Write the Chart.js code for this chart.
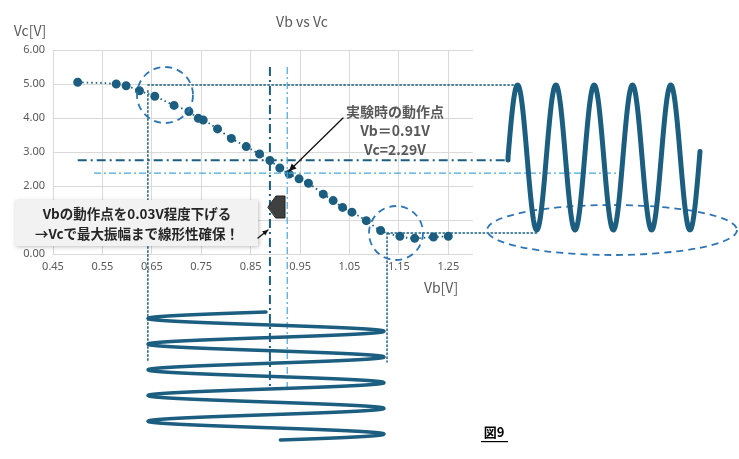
<!DOCTYPE html>
<html>
<head>
<meta charset="utf-8">
<script src="https://cdn.jsdelivr.net/npm/chart.js@4"></script>
<style>
html,body{margin:0;padding:0;background:#fff;}
#wrap{width:739px;height:459px;}
</style>
</head>
<body>
<div id="wrap"><canvas id="myChart" width="739" height="459"></canvas></div>
<script>
// Vb-Vc measurement points
let vbValues=[0.50,0.578,0.598,0.625,0.656,0.695,0.725,0.744,0.754,0.783,0.811,0.841,0.868,0.889,0.909,0.928,0.948,0.967,0.997,1.017,1.036,1.055,1.084,1.113,1.152,1.182,1.22,1.25];
let vcValues=[5.05,5.00,4.95,4.80,4.64,4.37,4.19,3.99,3.94,3.68,3.40,3.16,2.94,2.75,2.53,2.35,2.21,2.08,1.76,1.57,1.37,1.23,0.98,0.69,0.52,0.46,0.50,0.52];
let xTicks=[0.45,0.55,0.65,0.75,0.85,0.95,1.05,1.15,1.25];
let yTicks=[0,1,2,3,4,5,6];

const BLUE="rgb(28,94,128)";
const MID="rgb(46,117,182)";
const LIGHT="rgb(74,166,214)";

function wavePath(ctx, pts)
{
    ctx.beginPath();
    pts.forEach((p,i)=>{ if(i==0) ctx.moveTo(p[0],p[1]); else ctx.lineTo(p[0],p[1]); });
    ctx.stroke();
}

let deco={
    id:"deco",
    afterDatasetsDraw(chart)
    {
        let ctx=chart.ctx;
        let sx=chart.scales.x, sy=chart.scales.y;
        let X=v=>sx.getPixelForValue(v), Y=v=>sy.getPixelForValue(v);
        ctx.save();
        ctx.lineCap="round";

        // dotted guide lines
        ctx.strokeStyle=BLUE; ctx.lineWidth=1.5; ctx.setLineDash([1.5,2.5]);
        ctx.beginPath();
        ctx.moveTo(X(0.642),Y(4.97)); ctx.lineTo(518,Y(4.97));
        ctx.moveTo(X(1.126),Y(0.62)); ctx.lineTo(537,Y(0.62));
        ctx.moveTo(X(0.642),Y(4.8)); ctx.lineTo(X(0.642),362);
        ctx.moveTo(X(1.126),Y(0.62)); ctx.lineTo(X(1.126),362);
        ctx.stroke();

        // dark dash-dot operating point
        ctx.lineCap="butt";
        ctx.strokeStyle=BLUE; ctx.lineWidth=2; ctx.setLineDash([9,4,2,4]);
        ctx.beginPath();
        ctx.moveTo(X(0.50),Y(2.76)); ctx.lineTo(508,Y(2.76));
        ctx.moveTo(X(0.889),67); ctx.lineTo(X(0.889),390);
        ctx.stroke();
        // light dash-dot experimental point
        ctx.strokeStyle=LIGHT; ctx.lineWidth=1.2; ctx.setLineDash([7,3,2,3]);
        ctx.beginPath();
        ctx.moveTo(X(0.533),Y(2.38)); ctx.lineTo(620,Y(2.38));
        ctx.moveTo(X(0.924),67); ctx.lineTo(X(0.924),387);
        ctx.stroke();

        // dashed circles
        ctx.strokeStyle=MID; ctx.lineWidth=1.8; ctx.setLineDash([7,5]);
        ctx.beginPath(); ctx.ellipse(165,95,28,28,0,0,Math.PI*2); ctx.stroke();
        ctx.beginPath(); ctx.ellipse(396,233,27,27,0,0,Math.PI*2); ctx.stroke();
        ctx.beginPath(); ctx.ellipse(612,230,125,25,0,0,Math.PI*2); ctx.stroke();

        // output wave (Vc)
        ctx.setLineDash([]); ctx.strokeStyle=BLUE; ctx.lineWidth=5; ctx.lineCap="round"; ctx.lineJoin="round";
        let pts=[[508,160]];
        for(let x=508;x<=700;x+=0.5) pts.push([x,157.5-72.5*Math.sin(2*Math.PI*(x-508)/38.3)]);
        wavePath(ctx,pts);

        // input wave (Vb)
        ctx.lineWidth=3.5;
        pts=[];
        for(let y=312;y<=440;y+=0.25) pts.push([266-118*Math.sin(2*Math.PI*(y-312)/25.7),y]);
        wavePath(ctx,pts);

        // note box
        ctx.shadowColor="rgba(0,0,0,0.25)"; ctx.shadowBlur=4; ctx.shadowOffsetX=1; ctx.shadowOffsetY=1;
        ctx.fillStyle="#f2f2f2"; ctx.fillRect(15,200,243,46);
        ctx.shadowColor="transparent";
        ctx.fillStyle="#262626"; ctx.font="bold 13.5px 'Noto Sans CJK JP'"; ctx.textAlign="center"; ctx.textBaseline="middle";
        ctx.fillText("Vbの動作点を0.03V程度下げる",137,214);
        ctx.fillText("→Vcで最大振幅まで線形性確保！",137,234);

        // left-pointing block arrow
        ctx.fillStyle="#404040"; ctx.strokeStyle="#222"; ctx.lineWidth=1;
        ctx.beginPath();
        ctx.moveTo(268,207); ctx.lineTo(276,196); ctx.lineTo(285,196); ctx.lineTo(285,218); ctx.lineTo(276,218); ctx.closePath();
        ctx.fill(); ctx.stroke();

        // small arrows
        ctx.strokeStyle="#111"; ctx.fillStyle="#111"; ctx.lineWidth=1.3;
        function arrow(x1,y1,x2,y2,h)
        {
            ctx.beginPath(); ctx.moveTo(x1,y1); ctx.lineTo(x2,y2); ctx.stroke();
            let a=Math.atan2(y2-y1,x2-x1);
            ctx.beginPath(); ctx.moveTo(x2,y2);
            ctx.lineTo(x2-h*Math.cos(a-0.45),y2-h*Math.sin(a-0.45));
            ctx.lineTo(x2-h*Math.cos(a+0.45),y2-h*Math.sin(a+0.45));
            ctx.closePath(); ctx.fill();
        }
        arrow(343,118,289,171,8);
        arrow(258,238,268,230,6);

        // operating point label
        ctx.fillStyle="#595959"; ctx.font="bold 14px 'Noto Sans CJK JP'";
        ctx.fillText("実験時の動作点",395,112);
        ctx.fillText("Vb＝0.91V",395,131);
        ctx.fillText("Vc=2.29V",395,150);

        // titles
        ctx.fillStyle="#595959"; ctx.font="14px 'Noto Sans CJK JP'";
        ctx.fillText("Vb vs Vc",302,22);
        ctx.fillText("Vc[V]",30,31);
        ctx.fillText("Vb[V]",441,288);

        ctx.fillStyle="#000"; ctx.font="bold 13px 'Noto Sans CJK JP'";
        ctx.fillText("図9",494,432);
        ctx.fillRect(481,441,27,1.2);
        ctx.restore();
    }
};

new Chart(document.getElementById("myChart"),{
    type:"scatter",
    data:{
        datasets:[{
            data:vbValues.map((v,i)=>({x:v,y:vcValues[i]})),
            showLine:true,
            cubicInterpolationMode:"monotone",
            borderColor:BLUE,
            borderWidth:1.8,
            borderDash:[1.5,3],
            backgroundColor:BLUE,
            pointBackgroundColor:BLUE,
            pointBorderColor:BLUE,
            pointRadius:3.6
        }]
    },
    options:{
        responsive:false,
        animation:false,
        layout:{padding:{left:0,right:266,top:50,bottom:185}},
        plugins:{legend:{display:false},tooltip:{enabled:false}},
        scales:{
            x:{
                type:"linear",min:0.45,max:1.30,
                afterBuildTicks:s=>{s.ticks=xTicks.map(v=>({value:v}));},
                afterFit:s=>{s.height=20;},
                grid:{color:"#d9d9d9",drawTicks:false},
                border:{display:false},
                ticks:{color:"#595959",font:{size:11,family:"'Noto Sans'"},padding:6,maxRotation:0,callback:v=>v.toFixed(2)}
            },
            y:{
                min:0,max:6,
                afterBuildTicks:s=>{s.ticks=yTicks.map(v=>({value:v}));},
                afterFit:s=>{s.width=53;},
                grid:{color:"#d9d9d9",drawTicks:false},
                border:{display:false},
                ticks:{color:"#595959",font:{size:11,family:"'Noto Sans'"},padding:8,callback:v=>v.toFixed(2)}
            }
        }
    },
    plugins:[deco]
});
</script>
</body>
</html>
